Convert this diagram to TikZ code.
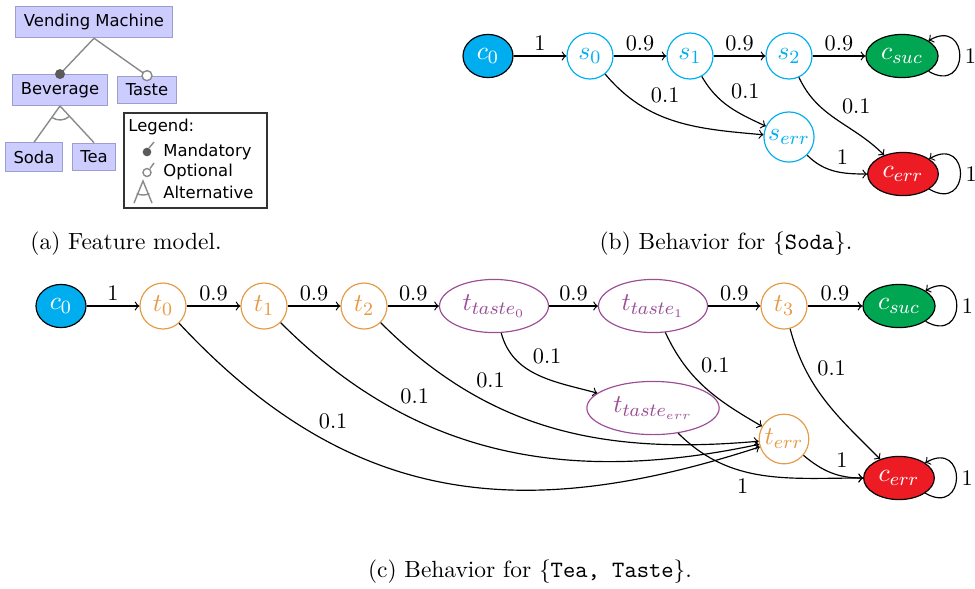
\documentclass[tikz,border=0pt]{standalone}
\usepackage{fontspec}
\newfontfamily\fmfont{DejaVu Sans}
\usepackage{tikz}
\usetikzlibrary{shapes.geometric,positioning}
\definecolor{fmfill}{HTML}{CCCCFF}
\definecolor{fmstroke}{HTML}{9D9DCF}
\definecolor{fmline}{HTML}{8A8A8A}
\definecolor{mandfill}{HTML}{5A5A5A}
\definecolor{initfill}{HTML}{00AEEF}
\definecolor{sucfill}{HTML}{00A651}
\definecolor{errfill}{HTML}{ED1C24}
\definecolor{teacol}{HTML}{E59A45}
\definecolor{tastecol}{HTML}{9B4D96}

\begin{document}
\begin{tikzpicture}[
  x=0.015cm,
  y=-0.015cm,
  >=to,
  feat/.style={
    draw=fmstroke,
    fill=fmfill,
    font=\fmfont\fontsize{7}{8}\selectfont,
    inner xsep=3.5pt,
    minimum height=0.405cm
  },
  fmedge/.style={
    draw=fmline,
    line width=0.6pt
  },
  legtext/.style={
    anchor=west,
    inner sep=0pt,
    font=\fmfont\fontsize{7}{8}\selectfont
  },
  state/.style={
    circle,
    draw,
    line width=0.5pt,
    minimum size=0.69cm,
    inner sep=1pt,
    font=\fontsize{11}{13}\selectfont
  },
  soda/.style={state, draw=initfill, text=initfill},
  tea/.style={state, draw=teacol, text=teacol},
  taste/.style={
    ellipse,
    draw=tastecol,
    text=tastecol,
    line width=0.5pt,
    minimum height=0.72cm,
    inner xsep=3pt,
    font=\fontsize{11}{13}\selectfont
  },
  final/.style={
    ellipse,
    draw=black,
    text=white,
    line width=0.5pt,
    minimum height=0.56cm,
    minimum width=0.75cm,
    inner xsep=2pt,
    font=\fontsize{11}{13}\selectfont
  },
  trans/.style={
    ->,
    black,
    line width=0.5pt
  },
  prob/.style={
    auto,
    inner sep=2pt,
    font=\fontsize{9.5}{11}\selectfont
  },
  selfloop/.style={
    loop,
    out=-30,
    in=30,
    distance=0.72cm
  },
  caption/.style={
    font=\normalsize
  }
]

\path[use as bounding box] (0,0) rectangle (975,588);

% (a) Feature model
\node[feat] (vm)    at (94,22)  {Vending Machine};
\node[feat] (bev)   at (60,90)  {Beverage};
\node[feat] (taste) at (147,90) {Taste};
\node[feat] (soda)  at (34,157) {Soda};
\node[feat] (tea)   at (94,157) {Tea};

\draw[fmedge] (vm.south) -- (bev.north);
\draw[fmedge] (vm.south) -- (taste.north);
\draw[fmedge] (bev.south) -- (soda.north);
\draw[fmedge] (bev.south) -- (tea.north);
\draw[fmedge] (bev.south) ++(236:0.21cm) arc[start angle=236, end angle=309.5, radius=0.21cm];
\fill[mandfill] (bev.north) circle[radius=0.075cm];
\draw[fmline, fill=white, line width=0.6pt] (taste.north) circle[radius=0.075cm];

% legend
\node[draw=black!80, line width=0.6pt, minimum width=2.145cm, minimum height=1.425cm] (legend) at (195.5,160.5) {};
\node[legtext] (legtitle) at (128,127) {Legend:};
\node[legtext] (legmand)  at (163,152) {Mandatory};
\node[legtext] (legopt)   at (163,172) {Optional};
\node[legtext] (legalt)   at (163,192) {Alternative};
\fill[mandfill] (147,152) circle[radius=0.065cm];
\draw[fmedge] (149,148) -- (154,142);
\draw[fmline, line width=0.6pt] (147,172.5) circle[radius=0.06cm];
\draw[fmedge] (150,168.5) -- (154,163);
\draw[fmedge] (134,203) -- (143,181) -- (152,203);
\draw[fmedge] (143,181) ++(243:0.21cm) arc[start angle=243, end angle=297, radius=0.21cm];

\node[caption] (capa) at (126,244) {(a) Feature model.};

% (b) Behavior for Soda
\node[final, fill=initfill] (sc0)  at (488,56)  {$c_0$};
\node[soda]                (s0)    at (590,56)  {$s_0$};
\node[soda]                (s1)    at (690,56)  {$s_1$};
\node[soda]                (s2)    at (789,56)  {$s_2$};
\node[final, fill=sucfill] (ssuc)  at (902,56)  {$c_{suc}$};
\node[soda]                (serr)  at (789,137) {$s_{err}$};
\node[final, fill=errfill] (scerr) at (903,174) {$c_{err}$};

\draw[trans] (sc0) -- node[prob] {1} (s0);
\draw[trans] (s0) -- node[prob] {0.9} (s1);
\draw[trans] (s1) -- node[prob] {0.9} (s2);
\draw[trans] (s2) -- node[prob] {0.9} (ssuc);
\draw[trans] (s0) to[out=-50, in=175] node[prob, pos=0.3] {0.1} (serr);
\draw[trans] (s1) to[out=-60, in=155] node[prob, pos=0.45] {0.1} (serr);
\draw[trans] (s2) to[out=-65, in=135] node[prob, pos=0.5] {0.1} (scerr);
\draw[trans] (serr) to[out=-45, in=180] node[prob, pos=0.45] {1} (scerr);
\draw[trans] (ssuc) to[selfloop] node[prob, right] {1} (ssuc);
\draw[trans] (scerr) to[selfloop] node[prob, right] {1} (scerr);

\node[caption] (capb) at (726,244) {(b) Behavior for \{\texttt{Soda}\}.};

% (c) Behavior for Tea, Taste
\node[final, fill=initfill] (tc0)   at (61,306)  {$c_0$};
\node[tea]                 (t0)    at (163,306) {$t_0$};
\node[tea]                 (t1)    at (264,306) {$t_1$};
\node[tea]                 (t2)    at (364,306) {$t_2$};
\node[taste]               (tt0)   at (494,306) {$t_{taste_0}$};
\node[taste]               (tt1)   at (653,306) {$t_{taste_1}$};
\node[tea]                 (t3)    at (784,306) {$t_3$};
\node[final, fill=sucfill] (tsuc)  at (899,306) {$c_{suc}$};
\node[taste]               (tterr) at (653,408) {$t_{taste_{err}}$};
\node[tea]                 (terr)  at (784,439) {$t_{err}$};
\node[final, fill=errfill] (tcerr) at (899,478) {$c_{err}$};

\draw[trans] (tc0) -- node[prob] {1} (t0);
\draw[trans] (t0) -- node[prob] {0.9} (t1);
\draw[trans] (t1) -- node[prob] {0.9} (t2);
\draw[trans] (t2) -- node[prob] {0.9} (tt0);
\draw[trans] (tt0) -- node[prob] {0.9} (tt1);
\draw[trans] (tt1) -- node[prob] {0.9} (t3);
\draw[trans] (t3) -- node[prob] {0.9} (tsuc);
\draw[trans] (t0) to[out=-47, in=198, looseness=1.08] node[prob, pos=0.26] {0.1} (terr);
\draw[trans] (t1) to[out=-45, in=192] node[prob, pos=0.27] {0.1} (terr);
\draw[trans] (t2) to[out=-45, in=185] node[prob, pos=0.27] {0.1} (terr);
\draw[trans] (tt0) to[out=-75, in=165] node[prob, pos=0.4] {0.1} (tterr);
\draw[trans] (tt1) to[out=-65, in=150] node[prob, pos=0.4] {0.1} (terr);
\draw[trans] (t3) to[out=-75, in=135] node[prob, pos=0.35] {0.1} (tcerr);
\draw[trans] (tterr) to[out=-45, in=180] node[prob, swap, pos=0.45] {1} (tcerr);
\draw[trans] (terr) to[out=-40, in=180] node[prob, pos=0.5] {1} (tcerr);
\draw[trans] (tsuc) to[selfloop] node[prob, right] {1} (tsuc);
\draw[trans] (tcerr) to[selfloop] node[prob, right] {1} (tcerr);

\node[caption] (capc) at (530,572) {(c) Behavior for \{\texttt{Tea, Taste}\}.};

\end{tikzpicture}
\end{document}
